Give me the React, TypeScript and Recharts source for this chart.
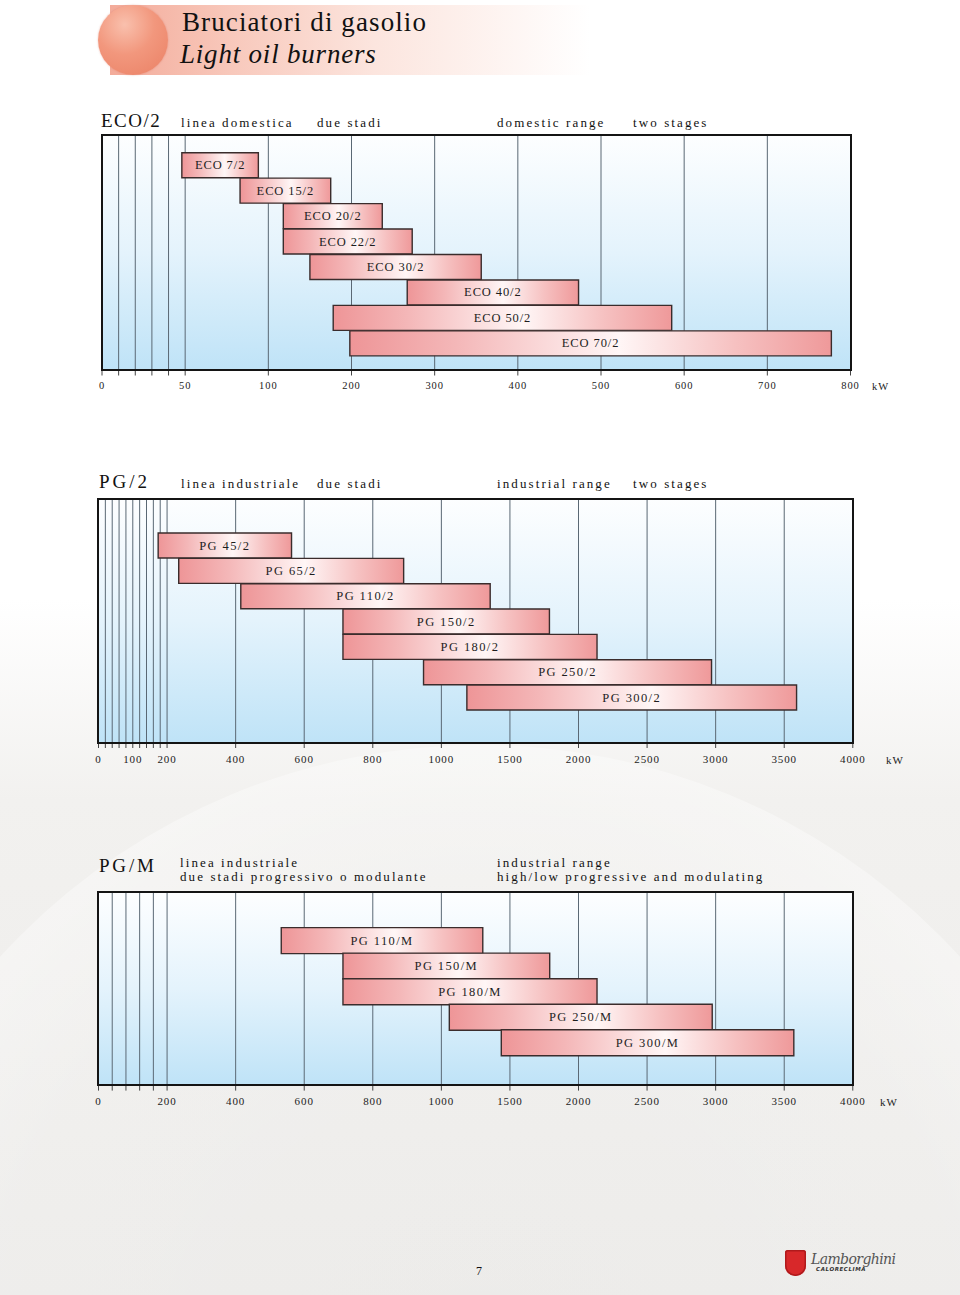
import React from 'react';
import { BarChart, Bar, XAxis, YAxis, CartesianGrid, LabelList } from 'recharts';

// ECO/2 - linea domestica, due stadi (kW min / max)
const ECO_MODELS = ['ECO 7/2', 'ECO 15/2', 'ECO 20/2', 'ECO 22/2', 'ECO 30/2', 'ECO 40/2', 'ECO 50/2', 'ECO 70/2'];
const ECO_MIN = [48, 83, 118, 118, 150, 267, 178, 198];
const ECO_MAX = [94, 175, 237, 273, 356, 473, 585, 777];
// segmenti della scala (ogni segmento ha la stessa larghezza)
const ECO_SCALE = [0, 50, 100, 200, 300, 400, 500, 600, 700, 800];
const ECO_GRID = [0, 10, 20, 30, 40, 50, 100, 200, 300, 400, 500, 600, 700, 800];
const ECO_LABELS = [0, 50, 100, 200, 300, 400, 500, 600, 700, 800];

// PG/2 - linea industriale, due stadi
const PG2_MODELS = ['PG 45/2', 'PG 65/2', 'PG 110/2', 'PG 150/2', 'PG 180/2', 'PG 250/2', 'PG 300/2'];
const PG2_MIN = [174, 234, 415, 713, 713, 948, 1186];
const PG2_MAX = [563, 890, 1356, 1788, 2135, 2970, 3590];
const PG_SCALE = [0, 200, 400, 600, 800, 1000, 1500, 2000, 2500, 3000, 3500, 4000];
const PG2_GRID = [0, 20, 40, 60, 80, 100, 120, 140, 160, 180, 200, 400, 600, 800, 1000, 1500, 2000, 2500, 3000, 3500, 4000];
const PG2_LABELS = [0, 100, 200, 400, 600, 800, 1000, 1500, 2000, 2500, 3000, 3500, 4000];

// PG/M - due stadi progressivo o modulante
const PGM_MODELS = ['PG 110/M', 'PG 150/M', 'PG 180/M', 'PG 250/M', 'PG 300/M'];
const PGM_MIN = [533, 713, 713, 1058, 1437];
const PGM_MAX = [1302, 1790, 2135, 2975, 3570];
const PGM_GRID = [0, 40, 80, 120, 160, 200, 400, 600, 800, 1000, 1500, 2000, 2500, 3000, 3500, 4000];
const PGM_LABELS = [0, 200, 400, 600, 800, 1000, 1500, 2000, 2500, 3000, 3500, 4000];

const serif = '"Liberation Serif", "DejaVu Serif", serif';

// scala a tratti: kW -> posizione (indice del segmento)
function toPos(kw: number, scale: number[]) {
  for (let i = 0; i < scale.length - 1; i++) {
    if (kw <= scale[i + 1]) return i + (kw - scale[i]) / (scale[i + 1] - scale[i]);
  }
  return scale.length - 1;
}

type Box = { x0: number; x1: number; y0: number; y1: number };

const RangeChart = ({ id, models, mins, maxs, scale, grid, labels, box, padTop, padBottom, tickFs, tickGap, kwX, labelSpacing }: any) => {
  const data = models.map((name: string, i: number) => ({
    name,
    range: [toPos(mins[i], scale), toPos(maxs[i], scale)],
  }));
  const ticks = grid.map((v: number) => toPos(v, scale));
  const b: Box = box;
  const mTop = 4;
  const axisH = 30;
  const mBottom = 4;
  const width = 960;
  const height = mTop + (b.y1 - b.y0) + axisH + mBottom;

  const fmt = (v: number) => {
    const j = ticks.findIndex((t: number) => Math.abs(t - v) < 1e-6);
    if (j < 0) return '';
    return labels.includes(grid[j]) ? String(grid[j]) : '';
  };

  const renderLabel = (p: any) => {
    const vb = p.viewBox || p;
    const x = (vb.x ?? p.x) + (vb.width ?? p.width) / 2;
    const y = (vb.y ?? p.y) + (vb.height ?? p.height) / 2;
    return (
      <text x={x} y={y} textAnchor="middle" dominantBaseline="central" fontFamily={serif} fontSize={12.5}
        fill="#1e1e1e" style={{ letterSpacing: labelSpacing }}>
        {p.value}
      </text>
    );
  };

  return (
    <div style={{ position: 'absolute', left: 0, top: b.y0 - mTop, width, height }}>
      <BarChart width={width} height={height} data={data} layout="vertical" barCategoryGap={0} barGap={0}
        margin={{ top: mTop, right: width - b.x1, bottom: mBottom, left: b.x0 }}>
        <defs>
          <linearGradient id={id + 'Bg'} x1="0" y1="0" x2="0" y2="1">
            <stop offset="0" stopColor="#fdfeff" />
            <stop offset="0.5" stopColor="#e4f3fc" />
            <stop offset="1" stopColor="#bfe3f7" />
          </linearGradient>
          <linearGradient id={id + 'Bar'} x1="0" y1="0" x2="1" y2="0">
            <stop offset="0" stopColor="#ee9597" />
            <stop offset="0.22" stopColor="#f4b7b8" />
            <stop offset="0.56" stopColor="#fff6f6" />
            <stop offset="0.8" stopColor="#f6c1c1" />
            <stop offset="1" stopColor="#ef999a" />
          </linearGradient>
        </defs>
        <CartesianGrid horizontal={false} stroke="#5a6874" strokeWidth={1} fill={`url(#${id}Bg)`} fillOpacity={1} />
        <XAxis type="number" domain={[0, scale.length - 1]} ticks={ticks} interval={0} allowDataOverflow
          tickFormatter={fmt} axisLine={false} tickSize={6} tickMargin={tickGap} height={axisH}
          tickLine={{ stroke: '#444' }}
          tick={{ fontSize: tickFs, fill: '#222', fontFamily: serif, letterSpacing: 0.9 }} />
        <YAxis type="category" dataKey="name" hide padding={{ top: padTop, bottom: padBottom }} />
        <Bar dataKey="range" fill={`url(#${id}Bar)`} stroke="#3a2c2c" strokeWidth={1.4} isAnimationActive={false}>
          <LabelList dataKey="name" content={renderLabel} />
        </Bar>
      </BarChart>
      {/* cornice del grafico */}
      <div style={{
        position: 'absolute', left: b.x0 - 1.25, top: mTop - 1.25, width: b.x1 - b.x0 + 2.5, height: b.y1 - b.y0 + 2.5,
        border: '2.5px solid #141414', boxSizing: 'border-box', pointerEvents: 'none',
      }} />
      <div style={{
        position: 'absolute', left: kwX, top: mTop + (b.y1 - b.y0) + 6 + tickGap, fontFamily: serif, fontSize: tickFs,
        letterSpacing: 1, color: '#222', lineHeight: 1,
      }}>kW</div>
    </div>
  );
};

const Txt = ({ x, base, fs, ls, children, italic }: any) => (
  <div style={{
    position: 'absolute', left: x, top: base - 0.8375 * fs, fontFamily: serif, fontSize: fs, lineHeight: 1,
    letterSpacing: ls, color: '#111', whiteSpace: 'nowrap', fontStyle: italic ? 'italic' : 'normal',
  }}>{children}</div>
);

export default function App() {
  return (
    <div style={{
      position: 'absolute', left: 0, top: 0, width: 960, height: 1295, overflow: 'hidden',
      background: 'linear-gradient(180deg, #ffffff 0px, #ffffff 600px, #f2f1ef 800px, #ecebe9 1295px)',
    }}>
      {/* filigrana circolare */}
      <div style={{
        position: 'absolute', left: -170, top: 745, width: 1300, height: 1300, borderRadius: '50%',
        background: 'radial-gradient(circle, rgba(255,255,255,0) 0, rgba(255,255,255,0.12) 55%, rgba(255,255,255,0.35) 70%)',
      }} />

      {/* intestazione */}
      <div style={{
        position: 'absolute', left: 110, top: 5, width: 480, height: 70,
        background: 'linear-gradient(90deg, #f3ab9a 0%, #f8c8bb 25%, #fce5de 55%, rgba(255,255,255,0) 100%)',
      }} />
      <div style={{
        position: 'absolute', left: 98, top: 5, width: 70, height: 70, borderRadius: '50%',
        background: 'radial-gradient(circle at 38% 28%, #f9c0ad 0%, #f2977d 45%, #ea8064 100%)',
        boxShadow: '0 0 2px rgba(200,90,70,0.4)',
      }} />
      <Txt x={182} base={32} fs={27} ls={1.1}>Bruciatori di gasolio</Txt>
      <Txt x={180} base={63.5} fs={27} ls={0.8} italic>Light oil burners</Txt>

      {/* ECO/2 */}
      <Txt x={101} base={126.5} fs={19} ls={1.5}>ECO/2</Txt>
      <Txt x={181} base={126.5} fs={13} ls={2.1}>linea domestica</Txt>
      <Txt x={317} base={126.5} fs={13} ls={2.1}>due stadi</Txt>
      <Txt x={497} base={126.5} fs={13} ls={2.1}>domestic range</Txt>
      <Txt x={633} base={126.5} fs={13} ls={2.1}>two stages</Txt>
      <RangeChart id="eco" models={ECO_MODELS} mins={ECO_MIN} maxs={ECO_MAX} scale={ECO_SCALE} grid={ECO_GRID}
        labels={ECO_LABELS} box={{ x0: 102, x1: 850.5, y0: 135, y1: 369.5 }} padTop={17.7} padBottom={13.2}
        tickFs={10.5} tickGap={6} kwX={872} labelSpacing={0.9} />

      {/* PG/2 */}
      <Txt x={99} base={487.5} fs={19} ls={3}>PG/2</Txt>
      <Txt x={181} base={487.5} fs={13} ls={2.1}>linea industriale</Txt>
      <Txt x={317} base={487.5} fs={13} ls={2.1}>due stadi</Txt>
      <Txt x={497} base={487.5} fs={13} ls={2.1}>industrial range</Txt>
      <Txt x={633} base={487.5} fs={13} ls={2.1}>two stages</Txt>
      <RangeChart id="pg2" models={PG2_MODELS} mins={PG2_MIN} maxs={PG2_MAX} scale={PG_SCALE} grid={PG2_GRID}
        labels={PG2_LABELS} box={{ x0: 98.5, x1: 852.8, y0: 499.3, y1: 742.3 }} padTop={34} padBottom={31.6}
        tickFs={11} tickGap={7} kwX={886} labelSpacing={1.4} />

      {/* PG/M */}
      <Txt x={99} base={872.3} fs={19} ls={2.8}>PG/M</Txt>
      <Txt x={180} base={866.5} fs={13} ls={2.1}>linea industriale</Txt>
      <Txt x={180} base={881} fs={13} ls={2.1}>due stadi progressivo o modulante</Txt>
      <Txt x={497} base={866.5} fs={13} ls={2.1}>industrial range</Txt>
      <Txt x={497} base={881} fs={13} ls={2.1}>high/low progressive and modulating</Txt>
      <RangeChart id="pgm" models={PGM_MODELS} mins={PGM_MIN} maxs={PGM_MAX} scale={PG_SCALE} grid={PGM_GRID}
        labels={PGM_LABELS} box={{ x0: 98.5, x1: 852.8, y0: 892.7, y1: 1084.3 }} padTop={34.6} padBottom={29.3}
        tickFs={11} tickGap={7} kwX={880} labelSpacing={1.4} />

      {/* piè di pagina */}
      <Txt x={476} base={1275} fs={12} ls={0}>7</Txt>
      <div style={{
        position: 'absolute', left: 785, top: 1250, width: 21, height: 26, background: '#d8282a',
        borderRadius: '3px 3px 11px 11px', boxShadow: 'inset 0 0 0 1.5px #b01a1c',
      }} />
      <div style={{
        position: 'absolute', left: 811, top: 1252, fontFamily: '"DejaVu Serif", serif', fontStyle: 'italic',
        fontSize: 14, color: '#555', lineHeight: 1, letterSpacing: -0.6,
      }}>Lamborghini</div>
      <div style={{
        position: 'absolute', left: 816, top: 1267, fontFamily: '"DejaVu Sans", sans-serif', fontWeight: 'bold',
        fontStyle: 'italic', fontSize: 5.5, color: '#333', lineHeight: 1, letterSpacing: 0.6,
      }}>CALORECLIMA</div>
    </div>
  );
}
